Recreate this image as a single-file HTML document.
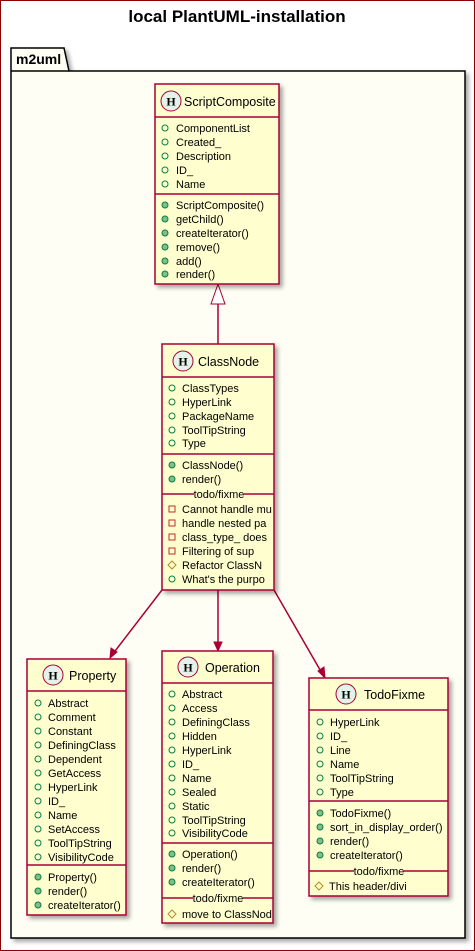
<!DOCTYPE html>
<html><head><meta charset="utf-8"><style>
html,body{margin:0;padding:0;background:#fff}
svg{display:block}
text{font-family:"Liberation Sans",sans-serif;font-size:11px;fill:#000}
.h{font-size:12.5px}
.hh{font-weight:bold;font-size:12px;font-family:"Liberation Serif",serif}
.hc{fill:#E4F2EA;stroke:#A80036}
.c{fill:none;stroke:#038048;stroke-width:1}
.m{fill:#84BE84;stroke:#038048;stroke-width:1}
.p{fill:none;stroke:#C82930}
.d{fill:none;stroke:#B38D22}
.box{fill:#FEFECE;stroke:#A80036;stroke-width:1.5}
.ln{stroke:#A80036;stroke-width:1.5}
</style></head><body>
<svg width="475" height="951" viewBox="0 0 475 951" xmlns="http://www.w3.org/2000/svg">
<defs><filter id="sh" x="-10%" y="-10%" width="130%" height="130%"><feDropShadow dx="3" dy="3" stdDeviation="2" flood-color="#000" flood-opacity="0.35"/></filter></defs>
<rect x="0.5" y="0.5" width="474" height="950" fill="#fff" stroke="#8B0000"/>
<text x="237" y="22" text-anchor="middle" style="font-size:17px;font-weight:bold">local PlantUML-installation</text>
<g filter="url(#sh)">
<path d="M11,71 L11,48 L64,48 L69,71 L465,71 L465,938 L11,938 Z" fill="#FEFEF4" stroke="#000" stroke-width="1.5"/>
</g>
<line x1="11" y1="71" x2="69" y2="71" stroke="#000" stroke-width="1.5"/>
<text x="16" y="64" style="font-size:14px;font-weight:bold">m2uml</text>

<!-- connectors -->
<line x1="218" y1="304" x2="218" y2="344" class="ln"/>
<polygon points="218,284 211,304 225,304" fill="#fff" stroke="#A80036" stroke-width="1"/>
<line x1="162" y1="590" x2="112" y2="655" class="ln"/>
<polygon points="110,658 111,648 117,652" fill="#A80036" stroke="#A80036"/>
<line x1="218" y1="590" x2="218" y2="648" class="ln"/>
<polygon points="218,651 214,642 222,642" fill="#A80036" stroke="#A80036"/>
<line x1="274" y1="590" x2="323" y2="675" class="ln"/>
<polygon points="325,678 318,671 324,667" fill="#A80036" stroke="#A80036"/>

<!-- ScriptComposite -->
<rect x="155" y="84" width="124" height="200" class="box" filter="url(#sh)"/>
<circle cx="171" cy="101" r="10" class="hc"/>
<text x="171" y="105.5" text-anchor="middle" class="hh">H</text>
<text x="184" y="106" class="h">ScriptComposite</text>
<line x1="155" y1="117" x2="279" y2="117" class="ln"/>
<circle cx="165" cy="128" r="3" class="c"/><text x="176" y="132">ComponentList</text>
<circle cx="165" cy="142" r="3" class="c"/><text x="176" y="146">Created_</text>
<circle cx="165" cy="156" r="3" class="c"/><text x="176" y="160">Description</text>
<circle cx="165" cy="170" r="3" class="c"/><text x="176" y="174">ID_</text>
<circle cx="165" cy="184" r="3" class="c"/><text x="176" y="188">Name</text>
<line x1="155" y1="194" x2="279" y2="194" class="ln"/>
<circle cx="165" cy="205" r="3" class="m"/><text x="176" y="209">ScriptComposite()</text>
<circle cx="165" cy="219" r="3" class="m"/><text x="176" y="223">getChild()</text>
<circle cx="165" cy="233" r="3" class="m"/><text x="176" y="237">createIterator()</text>
<circle cx="165" cy="247" r="3" class="m"/><text x="176" y="251">remove()</text>
<circle cx="165" cy="261" r="3" class="m"/><text x="176" y="265">add()</text>
<circle cx="165" cy="274" r="3" class="m"/><text x="176" y="278">render()</text>

<!-- ClassNode -->
<rect x="162" y="344" width="112" height="246" class="box" filter="url(#sh)"/>
<circle cx="183" cy="361" r="10" class="hc"/>
<text x="183" y="365.5" text-anchor="middle" class="hh">H</text>
<text x="198" y="366" class="h">ClassNode</text>
<line x1="162" y1="377" x2="274" y2="377" class="ln"/>
<circle cx="172" cy="388" r="3" class="c"/><text x="182" y="392">ClassTypes</text>
<circle cx="172" cy="402" r="3" class="c"/><text x="182" y="406">HyperLink</text>
<circle cx="172" cy="416" r="3" class="c"/><text x="182" y="420">PackageName</text>
<circle cx="172" cy="430" r="3" class="c"/><text x="182" y="434">ToolTipString</text>
<circle cx="172" cy="443" r="3" class="c"/><text x="182" y="447">Type</text>
<line x1="162" y1="454" x2="274" y2="454" class="ln"/>
<circle cx="172" cy="465" r="3" class="m"/><text x="182" y="469">ClassNode()</text>
<circle cx="172" cy="479" r="3" class="m"/><text x="182" y="483">render()</text>
<line x1="162" y1="494" x2="194" y2="494" class="ln"/><line x1="244" y1="494" x2="274" y2="494" class="ln"/>
<text x="219" y="498" text-anchor="middle">todo/fixme</text>
<rect x="169" y="506" width="6" height="6" class="p"/><text x="182" y="513">Cannot handle mu</text>
<rect x="169" y="520" width="6" height="6" class="p"/><text x="182" y="527">handle nested pa</text>
<rect x="169" y="534" width="6" height="6" class="p"/><text x="182" y="541">class_type_ does</text>
<rect x="169" y="548" width="6" height="6" class="p"/><text x="182" y="555">Filtering of sup</text>
<polygon points="172,561 176,565 172,569 168,565" class="d"/><text x="182" y="569">Refactor ClassN</text>
<circle cx="172" cy="579" r="3" class="c"/><text x="182" y="583">What's the purpo</text>

<!-- Property -->
<rect x="27" y="659" width="99" height="256" class="box" filter="url(#sh)"/>
<circle cx="53" cy="675" r="10" class="hc"/>
<text x="53" y="679.5" text-anchor="middle" class="hh">H</text>
<text x="69" y="680" class="h">Property</text>
<line x1="27" y1="691" x2="126" y2="691" class="ln"/>
<circle cx="38" cy="703" r="3" class="c"/><text x="48" y="707">Abstract</text>
<circle cx="38" cy="717" r="3" class="c"/><text x="48" y="721">Comment</text>
<circle cx="38" cy="731" r="3" class="c"/><text x="48" y="735">Constant</text>
<circle cx="38" cy="745" r="3" class="c"/><text x="48" y="749">DefiningClass</text>
<circle cx="38" cy="759" r="3" class="c"/><text x="48" y="763">Dependent</text>
<circle cx="38" cy="773" r="3" class="c"/><text x="48" y="777">GetAccess</text>
<circle cx="38" cy="787" r="3" class="c"/><text x="48" y="791">HyperLink</text>
<circle cx="38" cy="801" r="3" class="c"/><text x="48" y="805">ID_</text>
<circle cx="38" cy="815" r="3" class="c"/><text x="48" y="819">Name</text>
<circle cx="38" cy="829" r="3" class="c"/><text x="48" y="833">SetAccess</text>
<circle cx="38" cy="843" r="3" class="c"/><text x="48" y="847">ToolTipString</text>
<circle cx="38" cy="857" r="3" class="c"/><text x="48" y="861">VisibilityCode</text>
<line x1="27" y1="865" x2="126" y2="865" class="ln"/>
<circle cx="38" cy="877" r="3" class="m"/><text x="48" y="881">Property()</text>
<circle cx="38" cy="891" r="3" class="m"/><text x="48" y="895">render()</text>
<circle cx="38" cy="905" r="3" class="m"/><text x="48" y="909">createIterator()</text>

<!-- Operation -->
<rect x="162" y="651" width="111" height="272" class="box" filter="url(#sh)"/>
<circle cx="188" cy="667" r="10" class="hc"/>
<text x="188" y="671.5" text-anchor="middle" class="hh">H</text>
<text x="205" y="672" class="h">Operation</text>
<line x1="162" y1="683" x2="273" y2="683" class="ln"/>
<circle cx="172" cy="694" r="3" class="c"/><text x="182" y="698">Abstract</text>
<circle cx="172" cy="708" r="3" class="c"/><text x="182" y="712">Access</text>
<circle cx="172" cy="722" r="3" class="c"/><text x="182" y="726">DefiningClass</text>
<circle cx="172" cy="736" r="3" class="c"/><text x="182" y="740">Hidden</text>
<circle cx="172" cy="750" r="3" class="c"/><text x="182" y="754">HyperLink</text>
<circle cx="172" cy="764" r="3" class="c"/><text x="182" y="768">ID_</text>
<circle cx="172" cy="778" r="3" class="c"/><text x="182" y="782">Name</text>
<circle cx="172" cy="792" r="3" class="c"/><text x="182" y="796">Sealed</text>
<circle cx="172" cy="806" r="3" class="c"/><text x="182" y="810">Static</text>
<circle cx="172" cy="820" r="3" class="c"/><text x="182" y="824">ToolTipString</text>
<circle cx="172" cy="833" r="3" class="c"/><text x="182" y="837">VisibilityCode</text>
<line x1="162" y1="843" x2="273" y2="843" class="ln"/>
<circle cx="172" cy="854" r="3" class="m"/><text x="182" y="858">Operation()</text>
<circle cx="172" cy="868" r="3" class="m"/><text x="182" y="872">render()</text>
<circle cx="172" cy="882" r="3" class="m"/><text x="182" y="886">createIterator()</text>
<line x1="162" y1="898" x2="193" y2="898" class="ln"/><line x1="243" y1="898" x2="273" y2="898" class="ln"/>
<text x="218" y="902" text-anchor="middle">todo/fixme</text>
<polygon points="172,910 176,914 172,918 168,914" class="d"/><text x="182" y="918">move to ClassNod</text>

<!-- TodoFixme -->
<rect x="309" y="678" width="139" height="218" class="box" filter="url(#sh)"/>
<circle cx="346" cy="694" r="10" class="hc"/>
<text x="346" y="698.5" text-anchor="middle" class="hh">H</text>
<text x="364" y="699" class="h">TodoFixme</text>
<line x1="309" y1="710" x2="448" y2="710" class="ln"/>
<circle cx="320" cy="722" r="3" class="c"/><text x="330" y="726">HyperLink</text>
<circle cx="320" cy="736" r="3" class="c"/><text x="330" y="740">ID_</text>
<circle cx="320" cy="750" r="3" class="c"/><text x="330" y="754">Line</text>
<circle cx="320" cy="764" r="3" class="c"/><text x="330" y="768">Name</text>
<circle cx="320" cy="778" r="3" class="c"/><text x="330" y="782">ToolTipString</text>
<circle cx="320" cy="792" r="3" class="c"/><text x="330" y="796">Type</text>
<line x1="309" y1="801" x2="448" y2="801" class="ln"/>
<circle cx="320" cy="813" r="3" class="m"/><text x="330" y="817">TodoFixme()</text>
<circle cx="320" cy="827" r="3" class="m"/><text x="330" y="831">sort_in_display_order()</text>
<circle cx="320" cy="841" r="3" class="m"/><text x="330" y="845">render()</text>
<circle cx="320" cy="855" r="3" class="m"/><text x="330" y="859">createIterator()</text>
<line x1="309" y1="871" x2="354" y2="871" class="ln"/><line x1="404" y1="871" x2="448" y2="871" class="ln"/>
<text x="379" y="875" text-anchor="middle">todo/fixme</text>
<polygon points="319,882 323,886 319,890 315,886" class="d"/><text x="329" y="890">This header/divi</text>
</svg>
</body></html>
